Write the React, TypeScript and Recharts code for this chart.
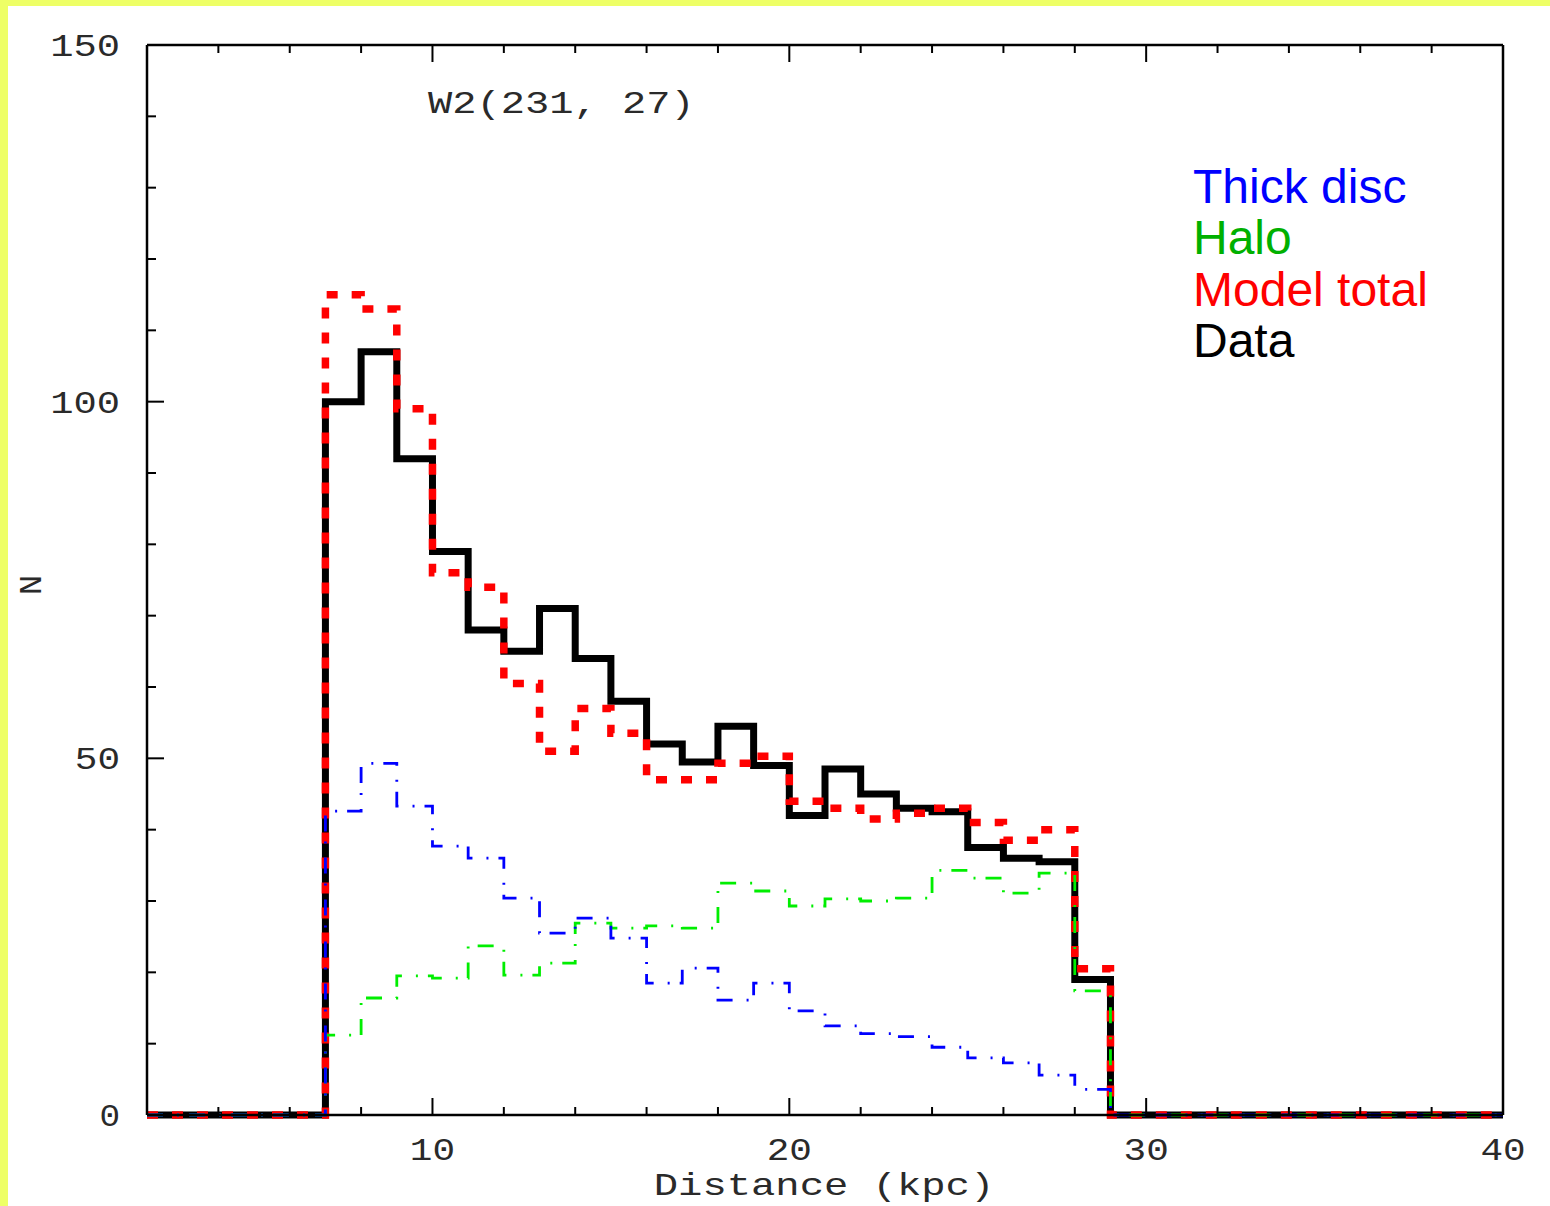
import React from 'react';
import { LineChart, Line, XAxis, YAxis } from 'recharts';

// Bin left edges (kpc); value holds until the next edge (step histogram)
const binEdges = [2, 7, 8, 9, 10, 11, 12, 13, 14, 15, 16, 17, 18, 19, 20, 21, 22, 23, 24, 25, 26, 27, 28, 29, 40];

const dataCounts = [0, 100, 107, 92, 79, 68, 65, 71, 64, 58, 52, 49.5, 54.5, 49, 42, 48.5, 45, 43, 42.5, 37.5, 36, 35.5, 19, 0, 0];
const modelTotal = [0, 115, 113, 99, 76, 74, 60.5, 51, 57, 53.5, 47, 47, 49.3, 50.3, 44, 43, 41.5, 42.3, 43, 41, 38.5, 40, 20.5, 0, 0];
const thickDisc = [0, 42.6, 49.3, 43.3, 37.7, 36, 30.4, 25.5, 27.6, 24.8, 18.5, 20.6, 16.1, 18.5, 14.6, 12.5, 11.4, 11, 9.5, 8, 7.3, 5.6, 3.6, 0, 0];
const halo = [0, 11.2, 16.4, 19.5, 19.2, 23.7, 19.6, 21.3, 26.9, 26.2, 26.5, 26.2, 32.5, 31.4, 29.3, 30.3, 30, 30.4, 34.3, 33.2, 31.1, 33.9, 17.4, 0, 0];

const xTicks = [2, 4, 6, 8, 10, 12, 14, 16, 18, 20, 22, 24, 26, 28, 30, 32, 34, 36, 38, 40];
const xLabelTicks = [10, 20, 30, 40];
const yTicks = [0, 10, 20, 30, 40, 50, 60, 70, 80, 90, 100, 110, 120, 130, 140, 150];
const yLabelTicks = [0, 50, 100, 150];

const legendItems = [
  { label: 'Thick disc', color: '#0000ff' },
  { label: 'Halo', color: '#00b000' },
  { label: 'Model total', color: '#ff0000' },
  { label: 'Data', color: '#000000' },
];

const titleText = 'W2(231, 27)';
const xLabelText = 'Distance (kpc)';
const yLabelText = 'N';

const chartData = binEdges.map((d, i) => ({
  d,
  data: dataCounts[i],
  model: modelTotal[i],
  thick: thickDisc[i],
  halo: halo[i],
}));

const MONO = '"Liberation Mono", "DejaVu Sans Mono", monospace';
const CHAR_W = 24.6;
const TXT = '#2a2a2a';

const monoText = (s: string, x: number, y: number, anchor: 'start' | 'middle' | 'end', extra: any = {}) => {
  const len = s.length * CHAR_W - 4;
  let x0 = x;
  if (anchor === 'middle') x0 = x - len / 2;
  if (anchor === 'end') x0 = x - len;
  return (
    <text
      x={x0}
      y={y}
      fontFamily={MONO}
      fontSize={32}
      fill={TXT}
      textLength={len}
      lengthAdjust="spacingAndGlyphs"
      {...extra}
    >
      {s}
    </text>
  );
};

const BottomTick = (props: any) => {
  const { x, y, payload } = props;
  const v = payload.value;
  const major = xLabelTicks.includes(v);
  const len = major ? 17 : 8;
  return (
    <g>
      <line x1={x} x2={x} y1={y} y2={y - len} stroke="#000" strokeWidth={2} />
      {major && monoText(String(v), x, y + 45, 'middle')}
    </g>
  );
};

const TopTick = (props: any) => {
  const { x, y, payload } = props;
  const v = payload.value;
  const major = xLabelTicks.includes(v);
  const len = major ? 17 : 8;
  return <line x1={x} x2={x} y1={y} y2={y + len} stroke="#000" strokeWidth={2} />;
};

const LeftTick = (props: any) => {
  const { x, y, payload } = props;
  const v = payload.value;
  const major = yLabelTicks.includes(v);
  const len = major ? 17 : 9;
  return (
    <g>
      <line x1={x} x2={x + len} y1={y} y2={y} stroke="#000" strokeWidth={2} />
      {major && monoText(String(v), x - 27, y + 11, 'end')}
    </g>
  );
};

const RightTick = (props: any) => {
  const { x, y, payload } = props;
  const v = payload.value;
  const major = yLabelTicks.includes(v);
  const len = major ? 17 : 9;
  return <line x1={x} x2={x - len} y1={y} y2={y} stroke="#000" strokeWidth={2} />;
};

export default function App() {
  return (
    <div style={{ position: 'relative', width: 1550, height: 1206, background: '#eeff66', overflow: 'hidden' }}>
      <style>{'body{margin:0}'}</style>
      <div style={{ position: 'absolute', left: 8, top: 6, width: 1542, height: 1200, background: '#ffffff' }} />
      <div style={{ position: 'absolute', left: 0, top: 0 }}>
        <LineChart width={1550} height={1206} data={chartData} margin={{ top: 35, right: 37, bottom: 0, left: 0 }}>
          <XAxis
            dataKey="d"
            type="number"
            domain={[2, 40]}
            ticks={xTicks}
            interval={0}
            height={91}
            tickSize={0}
            tickMargin={0}
            tickLine={false}
            tick={<BottomTick />}
            axisLine={{ stroke: '#000', strokeWidth: 2.5 }}
          />
          <XAxis
            xAxisId="top"
            orientation="top"
            dataKey="d"
            type="number"
            domain={[2, 40]}
            ticks={xTicks}
            interval={0}
            height={10}
            tickSize={0}
            tickMargin={0}
            tickLine={false}
            tick={<TopTick />}
            axisLine={{ stroke: '#000', strokeWidth: 2.5 }}
          />
          <YAxis
            type="number"
            domain={[0, 150]}
            ticks={yTicks}
            interval={0}
            width={147}
            tickSize={0}
            tickMargin={0}
            tickLine={false}
            tick={<LeftTick />}
            axisLine={{ stroke: '#000', strokeWidth: 2.5 }}
          />
          <YAxis
            yAxisId="right"
            orientation="right"
            type="number"
            domain={[0, 150]}
            ticks={yTicks}
            interval={0}
            width={10}
            tickSize={0}
            tickMargin={0}
            tickLine={false}
            tick={<RightTick />}
            axisLine={{ stroke: '#000', strokeWidth: 2.5 }}
          />
          <Line
            type="stepAfter"
            dataKey="data"
            stroke="#000000"
            strokeWidth={7}
            dot={false}
            activeDot={false}
            isAnimationActive={false}
          />
          <Line
            type="stepAfter"
            dataKey="model"
            stroke="#ff0000"
            strokeWidth={7.5}
            strokeDasharray="11 14"
            dot={false}
            activeDot={false}
            isAnimationActive={false}
          />
          <Line
            type="stepAfter"
            dataKey="halo"
            stroke="#00ee00"
            strokeWidth={2.8}
            strokeDasharray="16 14 2 10"
            dot={false}
            activeDot={false}
            isAnimationActive={false}
          />
          <Line
            type="stepAfter"
            dataKey="thick"
            stroke="#0000ff"
            strokeWidth={2.8}
            strokeDasharray="16 14 2 10"
            dot={false}
            activeDot={false}
            isAnimationActive={false}
          />
        </LineChart>
      </div>
      <svg width={1550} height={1206} style={{ position: 'absolute', left: 0, top: 0, pointerEvents: 'none' }}>
        {monoText(titleText, 428, 113, 'start')}
        {monoText(xLabelText, 824, 1195, 'middle')}
        <g transform="translate(41 585) rotate(-90)">
          {monoText(yLabelText, 0, 0, 'middle')}
        </g>
        {legendItems.map((it, i) => (
          <text
            key={it.label}
            x={1193}
            y={203 + i * 51.3}
            fontFamily='"Liberation Sans", Arial, sans-serif'
            fontSize={48}
            fill={it.color}
          >
            {it.label}
          </text>
        ))}
      </svg>
    </div>
  );
}
